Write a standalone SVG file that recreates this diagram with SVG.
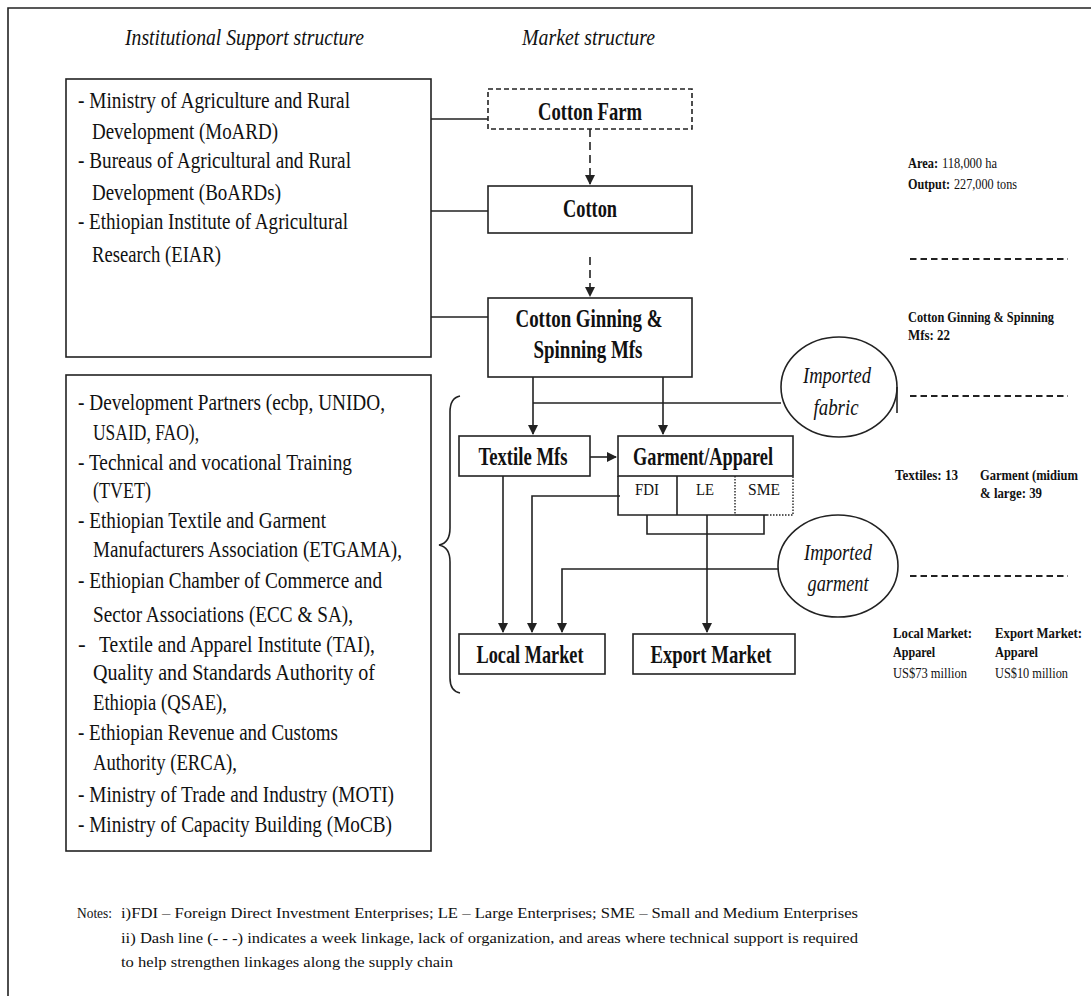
<svg xmlns="http://www.w3.org/2000/svg" width="1091" height="996" viewBox="0 0 1091 996">
<style>
.bx{fill:#fff;stroke:#222;stroke-width:1.6}
.ln{fill:none;stroke:#222;stroke-width:1.6}
.dl{fill:none;stroke:#222;stroke-width:2;stroke-dasharray:6.5 4}
.t{font-family:"Liberation Serif",serif;font-size:23px;fill:#111}
.b{font-family:"Liberation Serif",serif;font-size:25px;font-weight:bold;fill:#111}
.h{font-family:"Liberation Serif",serif;font-size:23px;font-style:italic;fill:#111}
.i{font-family:"Liberation Serif",serif;font-size:23px;font-style:italic;fill:#111}
.s{font-family:"Liberation Serif",serif;font-size:17px;fill:#111}
.r{font-family:"Liberation Serif",serif;font-size:14px;fill:#111}
.rb{font-family:"Liberation Serif",serif;font-size:14px;font-weight:bold;fill:#111}
.n{font-family:"Liberation Serif",serif;font-size:15px;fill:#111}
</style>
<defs>
<marker id="ah" markerWidth="10" markerHeight="10" refX="9" refY="5" orient="auto" markerUnits="userSpaceOnUse">
<path d="M0,0 L10,5 L0,10 z" fill="#222"/>
</marker>
</defs>
<rect width="1091" height="996" fill="#fff"/>
<g id="frame">
<path d="M1091,8 H8 V996" class="ln" stroke-width="2"/>
</g>
<g id="headings">
<text class="h" x="125" y="45" textLength="239" lengthAdjust="spacingAndGlyphs">Institutional  Support structure</text>
<text class="h" x="522" y="45" textLength="133" lengthAdjust="spacingAndGlyphs">Market structure</text>
</g>
<g id="box-institutions-1">
<rect class="bx" x="66" y="79" width="365" height="278"/>
<text class="t" x="78" y="108" textLength="272" lengthAdjust="spacingAndGlyphs">- Ministry of Agriculture  and Rural</text>
<text class="t" x="92" y="139" textLength="186" lengthAdjust="spacingAndGlyphs">Development  (MoARD)</text>
<text class="t" x="78" y="168" textLength="273" lengthAdjust="spacingAndGlyphs">- Bureaus of Agricultural  and Rural</text>
<text class="t" x="92" y="200" textLength="189" lengthAdjust="spacingAndGlyphs">Development  (BoARDs)</text>
<text class="t" x="78" y="229" textLength="270" lengthAdjust="spacingAndGlyphs">- Ethiopian  Institute  of Agricultural</text>
<text class="t" x="92" y="262" textLength="129" lengthAdjust="spacingAndGlyphs">Research (EIAR)</text>
</g>
<g id="box-institutions-2">
<rect class="bx" x="66" y="375" width="365" height="476"/>
<text class="t" x="78" y="410" textLength="307" lengthAdjust="spacingAndGlyphs">- Development  Partners (ecbp, UNIDO,</text>
<text class="t" x="93" y="440" textLength="106" lengthAdjust="spacingAndGlyphs">USAID, FAO),</text>
<text class="t" x="78" y="470" textLength="274" lengthAdjust="spacingAndGlyphs">- Technical  and vocational  Training</text>
<text class="t" x="93" y="498" textLength="58" lengthAdjust="spacingAndGlyphs">(TVET)</text>
<text class="t" x="78" y="528" textLength="248" lengthAdjust="spacingAndGlyphs">- Ethiopian  Textile  and Garment</text>
<text class="t" x="93" y="557" textLength="309" lengthAdjust="spacingAndGlyphs">Manufacturers  Association  (ETGAMA),</text>
<text class="t" x="78" y="588" textLength="304" lengthAdjust="spacingAndGlyphs">- Ethiopian  Chamber  of Commerce  and</text>
<text class="t" x="93" y="622" textLength="260" lengthAdjust="spacingAndGlyphs">Sector Associations  (ECC &amp; SA),</text>
<text class="t" x="78" y="652">-</text>
<text class="t" x="99" y="652" textLength="276" lengthAdjust="spacingAndGlyphs">Textile and Apparel  Institute (TAI),</text>
<text class="t" x="93" y="680" textLength="282" lengthAdjust="spacingAndGlyphs">Quality  and  Standards  Authority  of</text>
<text class="t" x="93" y="710" textLength="134" lengthAdjust="spacingAndGlyphs">Ethiopia (QSAE),</text>
<text class="t" x="78" y="740" textLength="260" lengthAdjust="spacingAndGlyphs">- Ethiopian  Revenue  and Customs</text>
<text class="t" x="93" y="770" textLength="144" lengthAdjust="spacingAndGlyphs">Authority (ERCA),</text>
<text class="t" x="78" y="802" textLength="316" lengthAdjust="spacingAndGlyphs">- Ministry of Trade and Industry (MOTI)</text>
<text class="t" x="78" y="832" textLength="314" lengthAdjust="spacingAndGlyphs">- Ministry of Capacity  Building (MoCB)</text>
</g>
<g id="brace">
<path class="ln" d="M460,396 Q450,398 450,412 V528 Q450,543 439,545 Q450,547 450,562 V678 Q450,691 460,693"/>
</g>
<g id="node-cotton-farm">
<rect class="bx" x="488" y="89" width="204" height="40" stroke-dasharray="5 3"/>
<text class="b" x="590" y="120" text-anchor="middle" textLength="104" lengthAdjust="spacingAndGlyphs">Cotton Farm</text>
</g>
<g id="node-cotton">
<rect class="bx" x="488" y="186" width="204" height="47"/>
<text class="b" x="590" y="217" text-anchor="middle" textLength="54" lengthAdjust="spacingAndGlyphs">Cotton</text>
</g>
<g id="node-ginning">
<rect class="bx" x="488" y="298" width="204" height="79"/>
<text class="b" x="589" y="327" text-anchor="middle" textLength="147" lengthAdjust="spacingAndGlyphs">Cotton Ginning  &amp;</text>
<text class="b" x="588" y="358" text-anchor="middle" textLength="109" lengthAdjust="spacingAndGlyphs">Spinning Mfs</text>
</g>
<g id="node-textile">
<rect class="bx" x="459" y="436" width="131" height="40"/>
<text class="b" x="523" y="465" text-anchor="middle" textLength="89" lengthAdjust="spacingAndGlyphs">Textile Mfs</text>
</g>
<g id="node-garment">
<rect class="bx" x="618" y="436" width="175" height="40"/>
<text class="b" x="703" y="465" text-anchor="middle" textLength="140" lengthAdjust="spacingAndGlyphs">Garment/Apparel</text>
<path class="ln" d="M735,515 H618 V476 M677,476 V515"/>
<path class="ln" d="M735,515 H767"/>
<path d="M735,476 V515 M767,515 H793 V476" fill="none" stroke="#222" stroke-width="1.4" stroke-dasharray="1.5 1.5"/>
<text class="s" x="647" y="495" text-anchor="middle" textLength="24" lengthAdjust="spacingAndGlyphs">FDI</text>
<text class="s" x="705" y="495" text-anchor="middle" textLength="18" lengthAdjust="spacingAndGlyphs">LE</text>
<text class="s" x="764" y="495" text-anchor="middle" textLength="32" lengthAdjust="spacingAndGlyphs">SME</text>
<path class="ln" d="M647,515 V534 H764 V515"/>
</g>
<g id="node-local-market">
<rect class="bx" x="459" y="634" width="146" height="40"/>
<text class="b" x="530" y="663" text-anchor="middle" textLength="107" lengthAdjust="spacingAndGlyphs">Local Market</text>
</g>
<g id="node-export-market">
<rect class="bx" x="633" y="634" width="162" height="40"/>
<text class="b" x="711" y="663" text-anchor="middle" textLength="121" lengthAdjust="spacingAndGlyphs">Export Market</text>
</g>
<g id="node-imported-fabric">
<ellipse class="ln" cx="839" cy="387" rx="58" ry="50"/>
<path class="ln" d="M897,387 V413"/>
<text class="i" x="837" y="383" text-anchor="middle" textLength="68" lengthAdjust="spacingAndGlyphs">Imported</text>
<text class="i" x="836" y="415" text-anchor="middle" textLength="45" lengthAdjust="spacingAndGlyphs">fabric</text>
</g>
<g id="node-imported-garment">
<ellipse class="ln" cx="838" cy="566" rx="60" ry="51"/>
<text class="i" x="838" y="560" text-anchor="middle" textLength="68" lengthAdjust="spacingAndGlyphs">Imported</text>
<text class="i" x="838" y="591" text-anchor="middle" textLength="61" lengthAdjust="spacingAndGlyphs">garment</text>
</g>
<g id="connectors">
<path class="ln" d="M431,119 H488 M431,211 H488 M431,317 H488"/>
<path d="M590,129 V184" fill="none" stroke="#222" stroke-width="1.6" stroke-dasharray="8 5" marker-end="url(#ah)"/>
<path d="M590,257 V296" fill="none" stroke="#222" stroke-width="1.6" stroke-dasharray="8 5" marker-end="url(#ah)"/>
<path class="ln" d="M533,377 V434" marker-end="url(#ah)"/>
<path class="ln" d="M663,377 V434" marker-end="url(#ah)"/>
<path class="ln" d="M533,403 H781"/>
<path class="ln" d="M590,457 H616" stroke-width="2.6" marker-end="url(#ah)"/>
<path class="ln" d="M503,476 V632" marker-end="url(#ah)"/>
<path class="ln" d="M620,496 H532 V632" marker-end="url(#ah)"/>
<path class="ln" d="M778,569 H562 V632" marker-end="url(#ah)"/>
<path class="ln" d="M707,515 V632" marker-end="url(#ah)"/>
</g>
<g id="stats">
<text class="rb" x="908" y="168" textLength="30" lengthAdjust="spacingAndGlyphs">Area:</text>
<text class="r" x="942" y="168" textLength="55" lengthAdjust="spacingAndGlyphs">118,000 ha</text>
<text class="rb" x="908" y="189" textLength="42" lengthAdjust="spacingAndGlyphs">Output:</text>
<text class="r" x="954" y="189" textLength="63" lengthAdjust="spacingAndGlyphs">227,000 tons</text>
<path class="dl" d="M910,259 H1068"/>
<text class="rb" x="908" y="322" textLength="146" lengthAdjust="spacingAndGlyphs">Cotton Ginning  &amp; Spinning</text>
<text class="rb" x="908" y="340" textLength="42" lengthAdjust="spacingAndGlyphs">Mfs: 22</text>
<path class="dl" d="M910,396 H1068"/>
<text class="rb" x="895" y="480" textLength="63" lengthAdjust="spacingAndGlyphs">Textiles: 13</text>
<text class="rb" x="980" y="480" textLength="98" lengthAdjust="spacingAndGlyphs">Garment (midium</text>
<text class="rb" x="980" y="498" textLength="62" lengthAdjust="spacingAndGlyphs">&amp; large: 39</text>
<path class="dl" d="M910,576 H1068"/>
<text class="rb" x="893" y="638" textLength="79" lengthAdjust="spacingAndGlyphs">Local Market:</text>
<text class="rb" x="893" y="657" textLength="42" lengthAdjust="spacingAndGlyphs">Apparel</text>
<text class="r" x="893" y="678" textLength="74" lengthAdjust="spacingAndGlyphs">US$73 million</text>
<text class="rb" x="995" y="638" textLength="87" lengthAdjust="spacingAndGlyphs">Export Market:</text>
<text class="rb" x="995" y="657" textLength="43" lengthAdjust="spacingAndGlyphs">Apparel</text>
<text class="r" x="995" y="678" textLength="73" lengthAdjust="spacingAndGlyphs">US$10 million</text>
</g>
<g id="notes">
<text class="n" x="77" y="918" textLength="35" lengthAdjust="spacingAndGlyphs">Notes:</text>
<text class="n" x="121" y="918" textLength="737" lengthAdjust="spacingAndGlyphs">i)FDI – Foreign Direct Investment Enterprises;  LE – Large Enterprises;  SME – Small and Medium Enterprises</text>
<text class="n" x="121" y="943" textLength="737" lengthAdjust="spacingAndGlyphs">ii) Dash line (- - -) indicates a week linkage, lack of organization, and areas where technical support is required</text>
<text class="n" x="121" y="967" textLength="332" lengthAdjust="spacingAndGlyphs">to help strengthen linkages along the supply chain</text>
</g>
</svg>
